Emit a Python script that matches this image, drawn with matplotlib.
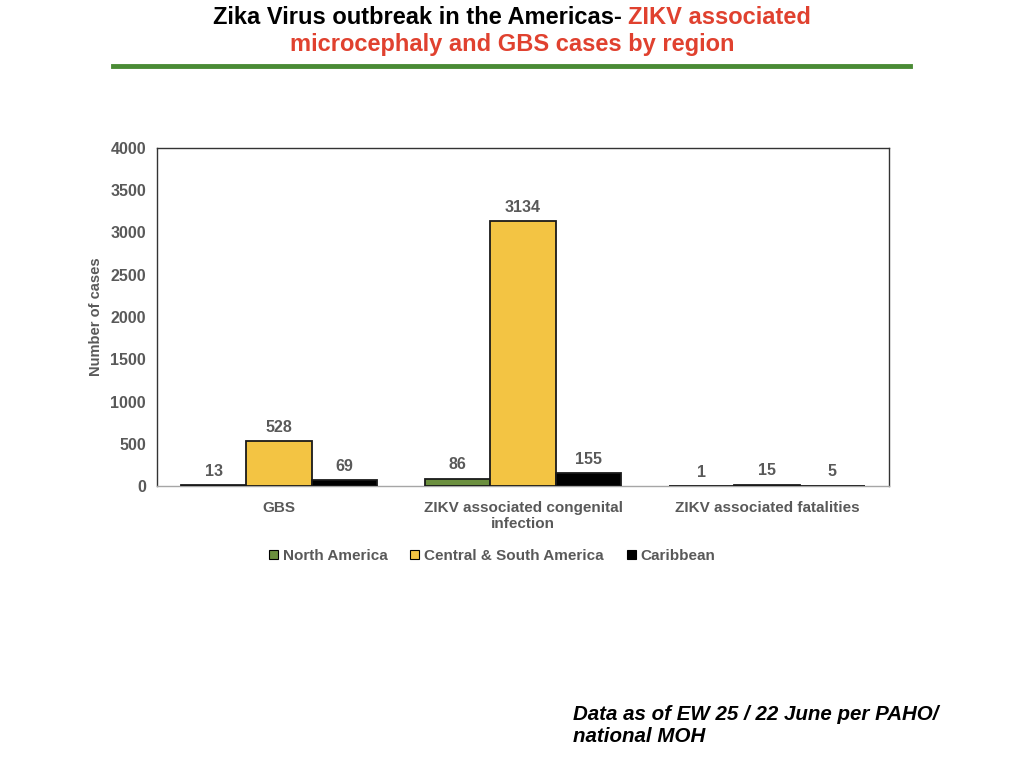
import matplotlib
matplotlib.use("Agg")
import matplotlib.pyplot as plt
import numpy as np
from matplotlib.lines import Line2D

categories = ["GBS", "ZIKV associated congenital\ninfection", "ZIKV associated fatalities"]
series_names = ["North America", "Central & South America", "Caribbean"]
north_america = [13, 86, 1]
central_south = [528, 3134, 15]
caribbean = [69, 155, 5]
yticks = [0, 500, 1000, 1500, 2000, 2500, 3000, 3500, 4000]

colors = ["#6b8f3e", "#f3c443", "#000000"]
gray = "#595959"

plt.rcParams['font.family'] = ['Liberation Sans', 'DejaVu Sans']

fig = plt.figure(figsize=(10.24, 7.68), dpi=100)
ax = fig.add_axes([157/1024, 1-486/768, 732/1024, 338/768])

x = np.arange(len(categories))
w = 0.267
for i, (vals, c, name) in enumerate(zip([north_america, central_south, caribbean], colors, series_names)):
    bars = ax.bar(x + (i-1)*w, vals, width=w, color=c, edgecolor="#1a1a1a", linewidth=1.3,
                  label=name, zorder=3)
    for b, v in zip(bars, vals):
        ax.annotate(str(v), (b.get_x()+b.get_width()/2, v), xytext=(0, 4.5), textcoords="offset points",
                    ha="center", va="bottom", fontsize=11.5, fontweight="bold", color=gray)

ax.set_xlim(-0.5, 2.5)
ax.set_ylim(0, 4000)
ax.set_yticks(yticks)
ax.set_yticklabels([str(t) for t in yticks], fontsize=11.5, fontweight="bold", color=gray)
ax.set_xticks(x)
ax.set_xticklabels(categories, fontsize=11, fontweight="bold", color=gray, linespacing=1.15)
ax.tick_params(axis="both", length=0)
ax.tick_params(axis="x", pad=11)
ax.tick_params(axis="y", pad=8)
for s in ["left", "top", "right"]:
    ax.spines[s].set_color("#333333")
    ax.spines[s].set_linewidth(1.0)
ax.spines["bottom"].set_color("#a6a6a6")
ax.spines["bottom"].set_linewidth(1.0)
ax.set_ylabel("Number of cases", fontsize=10.5, fontweight="bold", color=gray, labelpad=5)

handles = [plt.Rectangle((0, 0), 1, 1, facecolor=c, edgecolor="black", linewidth=0.8) for c in colors]
leg = fig.legend(handles, series_names, loc="center", bbox_to_anchor=(492/1024, 1-556/768), ncol=3,
                 frameon=False, handlelength=0.6, handleheight=0.6, handletextpad=0.3, columnspacing=1.5,
                 prop={"size": 11, "weight": "bold"})
for t in leg.get_texts():
    t.set_color(gray)

# Title
tfam = ['Liberation Sans Narrow', 'Liberation Sans', 'DejaVu Sans']
t1 = fig.text(0.5, 1-17/768, "Zika Virus outbreak in the Americas- ", ha="right", va="center",
              fontsize=17, fontweight="bold", family=tfam, color="black")
fig.canvas.draw()
r = fig.canvas.get_renderer()
t2 = fig.text(0.5, 1-17/768, "ZIKV associated", ha="left", va="center",
              fontsize=17, fontweight="bold", family=tfam, color="#e0412f")
b1 = t1.get_window_extent(r)
b2 = t2.get_window_extent(r)
total = b1.width + b2.width
shift = (total/2 - b1.width) / 1024
t1.set_x(0.5 - shift)
t2.set_x(0.5 - shift)
fig.text(0.5, 1-45/768, "microcephaly and GBS cases by region", ha="center", va="center",
         fontsize=17, fontweight="bold", family=tfam, color="#e0412f")
fig.add_artist(Line2D([113/1024, 910/1024], [1-66/768, 1-66/768], color="#4a8b35", linewidth=3.5))

fig.text(573/1024, 1-725/768, "Data as of EW 25 / 22 June per PAHO/\nnational MOH", ha="left", va="center",
         fontsize=14.8, fontweight="bold", style="italic", color="black", linespacing=1.2)

fig.savefig("out.png", dpi=100)
